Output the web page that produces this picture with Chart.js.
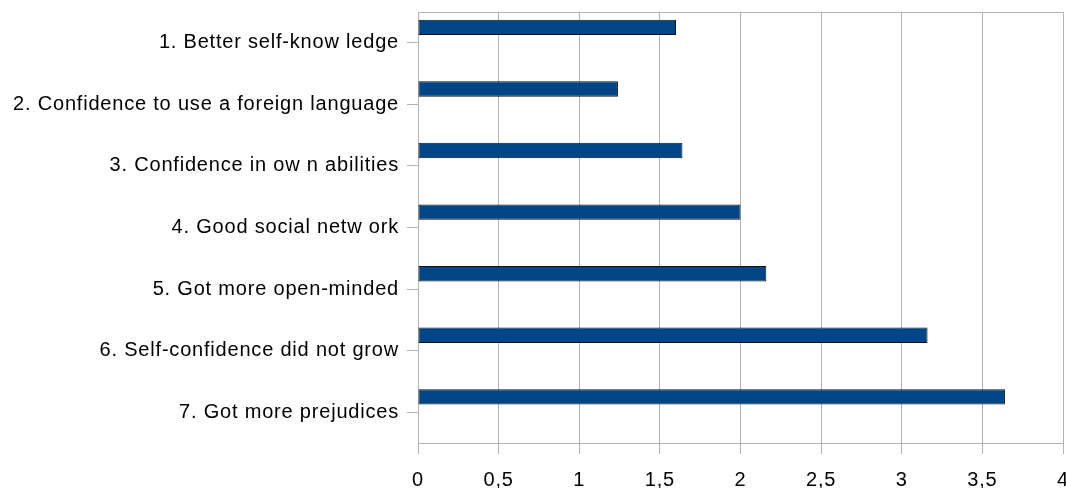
<!DOCTYPE html>
<html>
<head>
<meta charset="utf-8">
<title>Outcomes</title>
<script src="https://cdn.jsdelivr.net/npm/chart.js@4.4.1/dist/chart.umd.min.js"></script>
<style>
  html, body { margin: 0; padding: 0; background: #fff; }
  #wrap { width: 1066px; height: 488px; }
</style>
</head>
<body>
<div id="wrap"><canvas id="myChart" width="1066" height="488"></canvas></div>
<script>
// statements, top to bottom
const statements = [
    "1. Better self-know ledge",
    "2. Confidence to use a foreign language",
    "3. Confidence in ow n abilities",
    "4. Good social netw ork",
    "5. Got more open-minded",
    "6. Self-confidence did not grow",
    "7. Got more prejudices"
];
// average score per statement
const averages = [1.6, 1.24, 1.64, 2.0, 2.16, 3.16, 3.64];
// second series of the sheet, left empty
const emptySeries = [null, null, null, null, null, null, null];
// axis ticks
const xTicks = [0, 0.5, 1, 1.5, 2, 2.5, 3, 3.5, 4];

const gridGray = "#b3b3b3";
const labelFont = { family: "'Liberation Sans', Arial, sans-serif", size: 20 };

// thin line along the top of the plot, and the slightly loose text spacing
const frameAndText = {
    id: 'frameAndText',
    beforeDraw(chart) {
        chart.ctx.letterSpacing = '0.8px';
    },
    beforeDatasetsDraw(chart) {
        const a = chart.chartArea;
        const ctx = chart.ctx;
        ctx.save();
        ctx.strokeStyle = gridGray;
        ctx.lineWidth = 1;
        ctx.beginPath();
        ctx.moveTo(a.left, a.top + 0.5);
        ctx.lineTo(a.right, a.top + 0.5);
        ctx.stroke();
        ctx.restore();
    }
};

var ctx = document.getElementById('myChart').getContext('2d');
var chart = new Chart(ctx, {
    type : 'bar',
    data : {
        labels : statements,
        datasets : [
            {
                label : "Average",
                data : averages,
                backgroundColor : "#004586",
                borderColor : "#111111",
                borderWidth : 1,
                borderSkipped : false,
                categoryPercentage : 1.0,
                barPercentage : 0.5
            },
            {
                label : "",
                data : emptySeries,
                backgroundColor : "#ff420e",
                categoryPercentage : 1.0,
                barPercentage : 0.5
            }
        ]
    },
    options : {
        indexAxis : 'y',
        responsive : false,
        animation : false,
        layout : { padding : { top : 12, right : 3, left : 0, bottom : 0 } },
        plugins : {
            legend : { display : false },
            tooltip : { enabled : false }
        },
        scales : {
            x : {
                type : 'linear',
                min : 0,
                max : 4,
                afterBuildTicks : s => { s.ticks = xTicks.map(v => ({ value : v })); },
                afterFit : s => { s.height = 45; s.paddingRight = 0; s.paddingLeft = 0; },
                ticks : {
                    color : "#000",
                    font : labelFont,
                    padding : 14,
                    maxRotation : 0,
                    callback : v => String(v).replace('.', ',')
                },
                grid : {
                    color : gridGray,
                    lineWidth : 1,
                    tickLength : 11
                },
                border : { color : gridGray }
            },
            y : {
                afterFit : s => { s.width = 418; s.paddingTop = 0; s.paddingBottom = 0; },
                ticks : {
                    color : "#000",
                    font : labelFont,
                    padding : 8
                },
                grid : {
                    offset : false,
                    drawOnChartArea : false,
                    color : gridGray,
                    tickLength : 11
                },
                border : { color : gridGray }
            }
        }
    },
    plugins : [frameAndText]
});
</script>
</body>
</html>
